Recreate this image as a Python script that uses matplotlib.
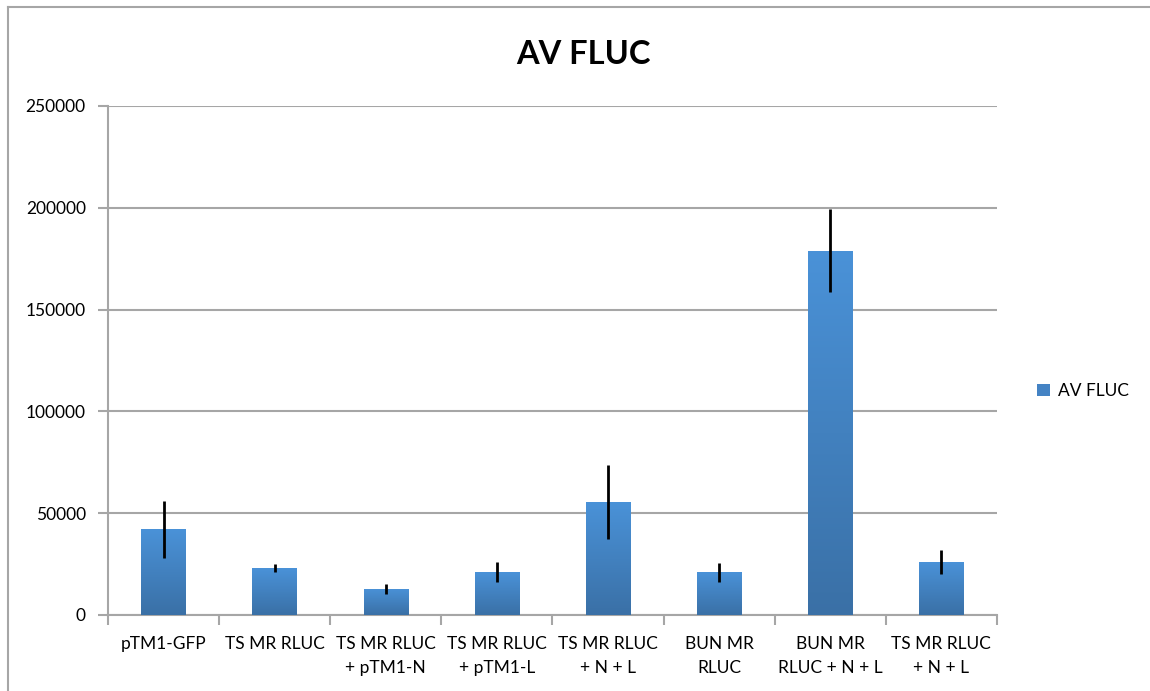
import numpy as np
import matplotlib
matplotlib.use("Agg")
import matplotlib.pyplot as plt
from matplotlib.colors import LinearSegmentedColormap
from matplotlib.patches import Patch
from matplotlib.lines import Line2D

plt.rcParams['font.family'] = ['Lato', 'DejaVu Sans']

# Data
categories = ["pTM1-GFP", "TS MR RLUC", "TS MR RLUC\n+ pTM1-N", "TS MR RLUC\n+ pTM1-L",
              "TS MR RLUC\n+ N + L", "BUN MR\nRLUC", "BUN MR\nRLUC + N + L", "TS MR RLUC\n+ N + L"]
av_fluc = [42000, 23000, 12800, 21000, 55500, 21000, 179000, 26000]
av_err = [14000, 2000, 2500, 5000, 18000, 4700, 20500, 6000]
yticks = [0, 50000, 100000, 150000, 200000, 250000]

grid_col = "#a6a6a6"
top_col = "#4a92d8"
bot_col = "#3a70a6"
cmap = LinearSegmentedColormap.from_list("bar", [bot_col, top_col])

fig = plt.figure(figsize=(11.5, 6.91), dpi=100)
ax = fig.add_axes([0.0939, 0.11, 0.773, 0.7366])

x = np.arange(len(categories))
bw = 0.4
bars = ax.bar(x, av_fluc, width=bw, color="none", zorder=3)
grad = np.linspace(0, 1, 256).reshape(-1, 1)
for b in bars:
    x0, y0 = b.get_x(), b.get_y()
    w, h = b.get_width(), b.get_height()
    im = ax.imshow(grad, cmap=cmap, origin="lower", aspect="auto",
                   extent=(x0, x0 + w, y0, y0 + h), zorder=3)
    im.set_clip_path(b)
ax.errorbar(x, av_fluc, yerr=av_err, fmt="none", ecolor="black", elinewidth=2,
            capsize=0, zorder=4)

ax.set_xlim(-0.5, len(categories) - 0.5)
ax.set_ylim(0, 250000)
ax.set_yticks(yticks)
ax.set_yticklabels([str(v) for v in yticks], fontsize=12.5)
ax.yaxis.grid(True, color=grid_col, lw=1.5, zorder=0)
ax.set_axisbelow(True)

ax.set_xticks(x)
ax.set_xticklabels(categories, fontsize=12.5, linespacing=1.65)
ax.tick_params(axis="x", length=0, pad=15)
ax.set_xticks(np.arange(-0.5, len(categories)), minor=True)
ax.tick_params(axis="x", which="minor", length=7, width=1.5, color=grid_col, direction="out")
ax.tick_params(axis="y", length=7, width=1.5, color=grid_col, direction="out", pad=9)

for s in ["top", "right"]:
    ax.spines[s].set_visible(False)
for s in ["left", "bottom"]:
    ax.spines[s].set_color(grid_col)
    ax.spines[s].set_linewidth(1.5)

fig.text(583 / 1150, 1 - 55 / 691, "AV FLUC", fontsize=23.5, fontweight="bold",
         ha="center", va="center")

handle = Patch(facecolor="#4483c4", edgecolor="none")
ax.legend([handle], ["AV FLUC"], loc="center left", bbox_to_anchor=(1.028, 0.44),
          frameon=False, fontsize=12.5, handlelength=0.75, handleheight=0.75,
          handletextpad=0.45)

# outer chart border (left and top)
fig.add_artist(Line2D([8 / 1150, 8 / 1150], [0, 1 - 7 / 691], color=grid_col, lw=1.5))
fig.add_artist(Line2D([8 / 1150, 1], [1 - 7 / 691, 1 - 7 / 691], color=grid_col, lw=1.5))

fig.savefig("out.png", dpi=100)
